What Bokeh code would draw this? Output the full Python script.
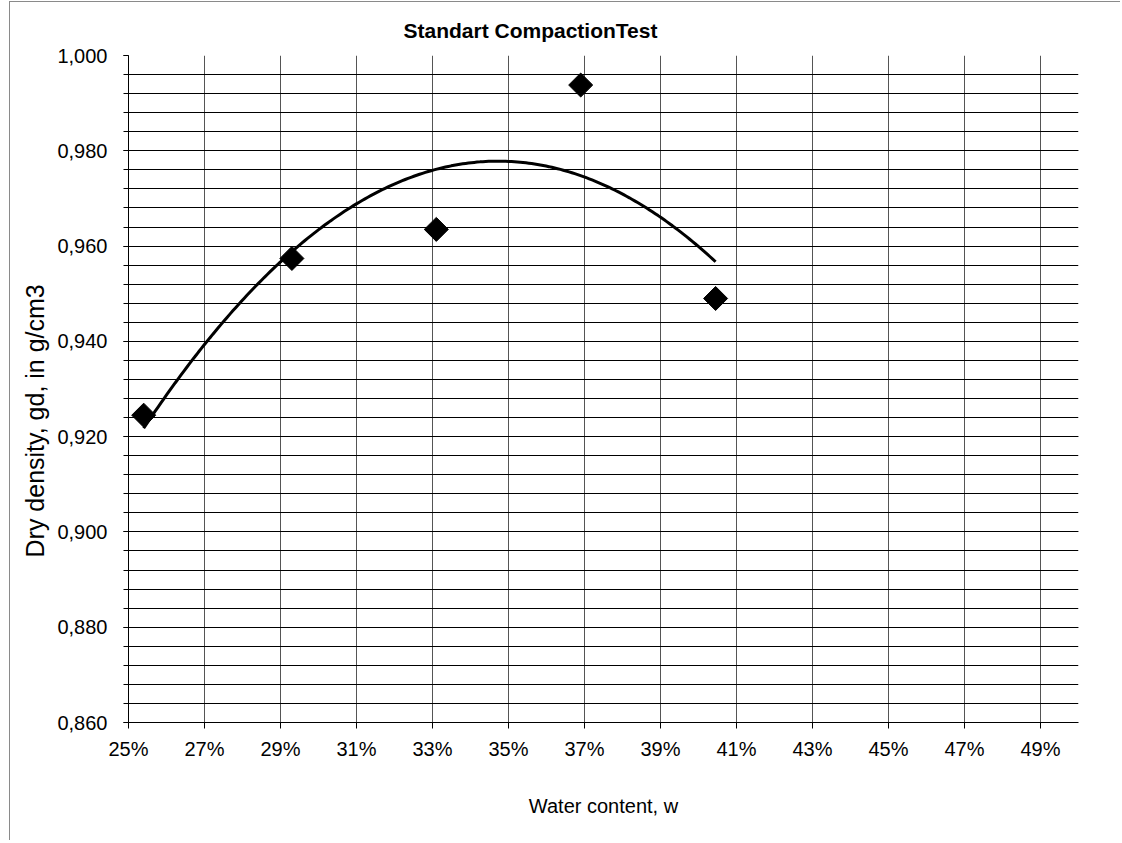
import numpy as np
from bokeh.plotting import figure
from bokeh.models import FixedTicker, CustomJSTickFormatter, Title, Range1d, ColumnDataSource
from bokeh.embed import file_html
from bokeh.resources import INLINE

# ---- data ----
water_content = [0.254, 0.293, 0.331, 0.369, 0.4045]
dry_density = [0.9245, 0.9574, 0.9635, 0.9938, 0.9490]

x_tick_values = [0.25, 0.27, 0.29, 0.31, 0.33, 0.35, 0.37, 0.39, 0.41, 0.43, 0.45, 0.47, 0.49]
y_major_ticks = [0.860, 0.880, 0.900, 0.920, 0.940, 0.960, 0.980, 1.000]
y_minor_step = 0.004

title_text = "Standart CompactionTest"
x_label_text = "Water content, w"
y_label_text = "Dry density, gd, in g/cm3"

FONT = "Liberation Sans"

# polynomial (2nd order) trendline fitted to the data
coef = np.polyfit(water_content, dry_density, 2)
xs = np.linspace(min(water_content), max(water_content), 200)
ys = np.polyval(coef, xs)

y_minor_ticks = [round(y_major_ticks[0] + i * y_minor_step, 3)
                 for i in range(int(round((y_major_ticks[-1] - y_major_ticks[0]) / y_minor_step)) + 1)]

p = figure(
    frame_width=950, frame_height=667,
    x_range=Range1d(0.25, 0.50), y_range=Range1d(0.86, 1.0),
    output_backend="svg", toolbar_location=None,
    min_border_left=118, min_border_top=10, min_border_right=42, min_border_bottom=118,
    background_fill_color="white", border_fill_color="white",
)
p.styles = {"border-left": "1px solid #8a8a8a", "border-top": "1px solid #8a8a8a",
            "margin-left": "9px", "margin-top": "1px"}
p.outline_line_color = None

# title
p.title.text = title_text
p.title.align = "left"
p.title.offset = 275
p.title.vertical_align = "bottom"
p.title.text_font = FONT
p.title.text_font_size = "21px"
p.title.text_font_style = "bold"
p.title.text_color = "black"
p.title.standoff = 28

# x axis
p.xaxis.ticker = FixedTicker(ticks=x_tick_values, minor_ticks=[])
p.xaxis.formatter = CustomJSTickFormatter(code="return Math.round(tick*100) + '%';")
p.xaxis.major_label_text_font = FONT
p.xaxis.major_label_text_font_size = "20px"
p.xaxis.major_label_text_color = "black"
p.xaxis.major_tick_out = 6
p.xaxis.major_tick_in = 0
p.xaxis.minor_tick_line_color = None
p.xaxis.major_label_standoff = 9
p.xaxis.axis_line_color = "black"
p.xaxis.major_tick_line_color = "black"
p.xaxis.axis_label = x_label_text
p.xaxis.axis_label_text_font = FONT
p.xaxis.axis_label_text_font_size = "20px"
p.xaxis.axis_label_text_font_style = "normal"
p.xaxis.axis_label_text_color = "black"
p.xaxis.axis_label_standoff = 32

# y axis
p.yaxis.ticker = FixedTicker(ticks=y_major_ticks, minor_ticks=y_minor_ticks)
p.yaxis.formatter = CustomJSTickFormatter(code="return tick.toFixed(3).replace('.', ',');")
p.yaxis.major_label_text_font = FONT
p.yaxis.major_label_text_font_size = "20px"
p.yaxis.major_label_text_color = "black"
p.yaxis.major_tick_out = 5
p.yaxis.major_tick_in = 0
p.yaxis.minor_tick_out = 5
p.yaxis.minor_tick_in = 0
p.yaxis.minor_tick_line_color = "black"
p.yaxis.major_label_standoff = 16
p.yaxis.axis_line_color = "black"
p.yaxis.major_tick_line_color = "black"

# y axis title, placed as a side title so it can be positioned along the axis
p.add_layout(Title(text=y_label_text, align="left", offset=165, text_font=FONT,
                   text_font_size="25px", text_font_style="normal", text_color="black",
                   standoff=12), "left")

# grids
p.xgrid.grid_line_color = "#555555"
p.xgrid.grid_line_width = 1
p.ygrid.grid_line_color = "black"
p.ygrid.grid_line_width = 1
p.ygrid.minor_grid_line_color = "black"
p.ygrid.minor_grid_line_width = 1

# trendline
p.line(xs, ys, line_color="black", line_width=3)

# points
src = ColumnDataSource(dict(x=water_content, y=dry_density))
p.scatter("x", "y", source=src, marker="square", size=17, angle=np.pi / 4,
          fill_color="black", line_color="black")

open("out.html", "w").write(file_html(p, INLINE))
